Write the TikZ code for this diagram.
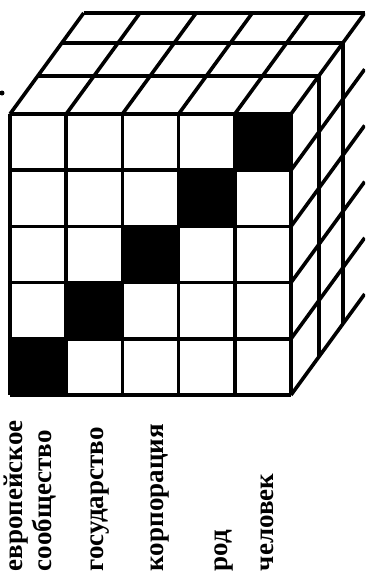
\documentclass[tikz,border=0pt]{standalone}
\usepackage{fontspec}
\setmainfont{Liberation Serif}
\usetikzlibrary{positioning}

\begin{document}
\begin{tikzpicture}[x=1pt,y=-1pt,line width=3.6pt,
  lbl/.style={rotate=90,anchor=base west,inner sep=0pt,font=\fontsize{27}{29}\selectfont\bfseries}]
\useasboundingbox (0,0) rectangle (365,574);
\clip (0,0) rectangle (365,574);
% black cells on the diagonal
\foreach \i in {0,...,4}
  \fill ({10+56.2*\i},{114+56.2*(4-\i)}) rectangle ++(56.2,56.2);
% front face
\foreach \i in {0,...,5} {
  \draw ({10+56.2*\i},114) -- ({10+56.2*\i},395);
  \draw (10,{114+56.2*\i}) -- (291,{114+56.2*\i});
}
% top face
\foreach \t in {38,71,101}
  \draw ({10+0.73*\t},{114-\t}) -- ({291+0.73*\t},{114-\t});
\foreach \i in {0,...,5}
  \draw ({10+56.2*\i},114) -- ++(73.7,-101);
% right face
\foreach \t in {38,71}
  \draw ({291+0.73*\t},{114-\t}) -- ({291+0.73*\t},{395-\t});
\foreach \j in {1,...,5}
  \draw (291,{114+56.2*\j}) -- ++(73.7,-101);
\fill (2,93) circle (2.5);
% labels
\node[lbl] (europe) at (23,573) {европейское};
\node[lbl] (community) at (52,573) {сообщество};
\node[lbl] (state) at (103,573) {государство};
\node[lbl] (corp) at (163,573) {корпорация};
\node[lbl] (clan) at (227,573) {род};
\node[lbl] (person) at (273,573) {человек};
\end{tikzpicture}
\end{document}
